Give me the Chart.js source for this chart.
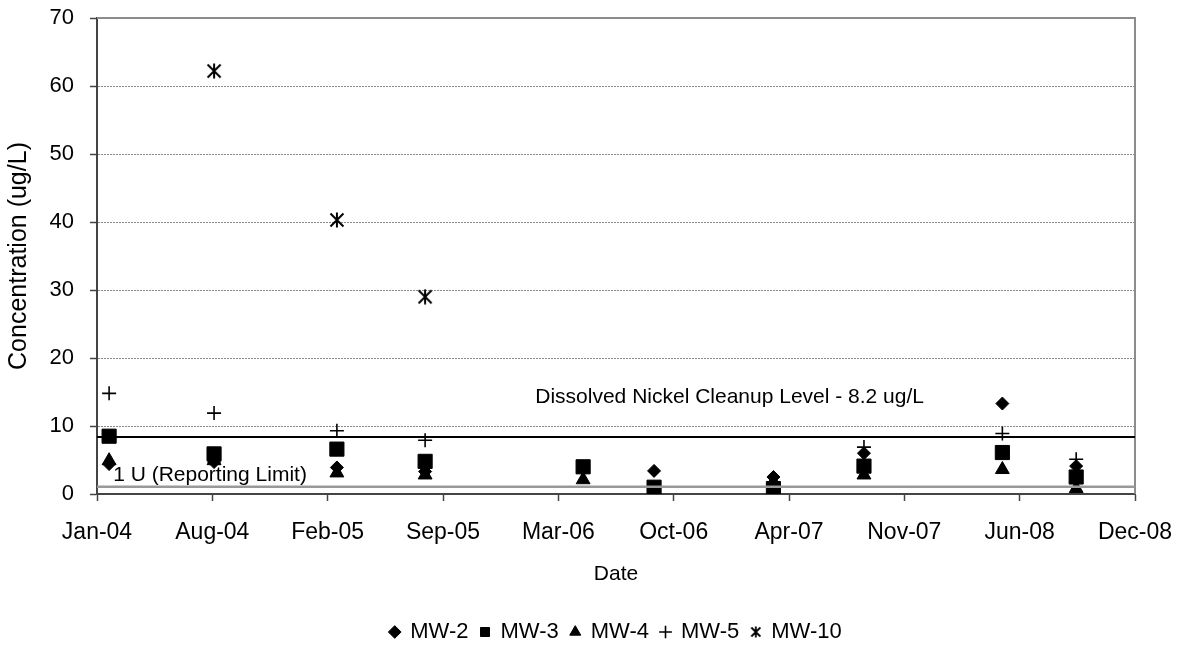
<!DOCTYPE html>
<html>
<head>
<meta charset="utf-8">
<script src="https://cdn.jsdelivr.net/npm/chart.js@4.4.1/dist/chart.umd.min.js"></script>
<style>
  html, body { margin: 0; padding: 0; background: #fff; }
  #wrap { width: 1182px; height: 655px; }
</style>
</head>
<body>
<div id="wrap"><canvas id="nickelCanvas"></canvas></div>
<script>
// sampling dates and dissolved nickel results (ug/L)
const sampleDates = ['2004-02-04', '2004-08-04', '2005-03-05', '2005-08-05', '2006-05-06',
                     '2006-09-06', '2007-04-01', '2007-09-05', '2008-05-02', '2008-09-07'];
const mw2  = [4.4, 4.7, 3.9, 3.3, 3.8, 3.4, 2.5, 6.0, 13.3, 4.1];
const mw3  = [8.5, 5.9, 6.6, 4.8, 4.0, 1.0, 0.8, 4.1, 6.1, 2.5];
const mw4  = [4.9, 4.9, 3.1, 2.8, 2.1, null, 1.8, 2.8, 3.6, 0.8];
const mw5  = [14.8, 11.9, 9.3, 7.9, null, null, null, 6.9, 8.9, 5.1];
const mw10 = [null, 62.2, 40.3, 29.0, null, null, null, null, null, null];

const cleanupLevel = 8.4;
const reportingLimit = 1.05;

// x axis runs in days from this date, one tick every 200 days
const axisStart = Date.UTC(2004, 0, 14);
const axisDays = 1800;
const tickStep = 200;
const DAY = 86400000;
const months = ['Jan', 'Feb', 'Mar', 'Apr', 'May', 'Jun', 'Jul', 'Aug', 'Sep', 'Oct', 'Nov', 'Dec'];

const dayOf = s => (Date.parse(s) - axisStart) / DAY;
const toPoints = vals => sampleDates.map((d, i) => ({x: dayOf(d), y: vals[i]})).filter(p => p.y !== null);

const FONT = '"Liberation Sans", Arial, sans-serif';

function starMarker(size, lw) {
    const c = document.createElement('canvas');
    c.width = size; c.height = size;
    const g = c.getContext('2d');
    g.strokeStyle = '#000';
    g.lineWidth = lw;
    const m = 1.5, e = size - 1.5;
    g.beginPath();
    g.moveTo(m, m); g.lineTo(e, e);
    g.moveTo(e, m); g.lineTo(m, e);
    g.moveTo(size / 2, 0.5); g.lineTo(size / 2, size - 0.5);
    g.stroke();
    return c;
}
const starBig = starMarker(16, 2);
const starSmall = starMarker(12, 1.8);

const plotFrame = {
    id: 'plotFrame',
    afterLayout(chart) {
        // centre the legend under the plot area, like the original
        const lg = chart.legend, a = chart.chartArea;
        const d = (a.left + a.right) / 2 - (lg.left + lg.right) / 2;
        lg.left += d;
        lg.right += d;
    },
    beforeDatasetsDraw(chart) {
        const {ctx, chartArea: a} = chart;
        ctx.save();
        ctx.strokeStyle = '#8c8c8c';
        ctx.lineWidth = 2;
        ctx.beginPath();
        ctx.moveTo(a.left, a.top);
        ctx.lineTo(a.right, a.top);
        ctx.lineTo(a.right, a.bottom);
        ctx.stroke();
        ctx.restore();
    },
    afterDatasetsDraw(chart) {
        const {ctx, scales: {x, y}} = chart;
        ctx.save();
        ctx.fillStyle = '#000';
        ctx.font = '21px ' + FONT;
        ctx.textBaseline = 'middle';
        ctx.fillText('Dissolved Nickel Cleanup Level - 8.2 ug/L', x.getPixelForValue(760), y.getPixelForValue(14.2));
        ctx.fillText('1 U (Reporting Limit)', x.getPixelForValue(28), y.getPixelForValue(2.7));
        ctx.restore();
    }
};

const ctx = document.getElementById('nickelCanvas').getContext('2d');

new Chart(ctx, {
    type: 'scatter',
    data: {
        datasets: [
            { label: 'cleanup', type: 'line', data: [{x: 0, y: cleanupLevel}, {x: axisDays, y: cleanupLevel}],
              borderColor: '#000', borderWidth: 2, pointRadius: 0, order: 0 },
            { label: 'reporting', type: 'line', data: [{x: 0, y: reportingLimit}, {x: axisDays, y: reportingLimit}],
              borderColor: '#999', borderWidth: 2.5, pointRadius: 0, order: 0 },
            { label: 'MW-2', data: toPoints(mw2), pointStyle: 'rectRot', pointRadius: 6.5,
              backgroundColor: '#000', borderColor: '#000', order: 1 },
            { label: 'MW-3', data: toPoints(mw3), pointStyle: 'rect', pointRadius: 10,
              backgroundColor: '#000', borderColor: '#000', order: 1 },
            { label: 'MW-4', data: toPoints(mw4), pointStyle: 'triangle', pointRadius: 8,
              backgroundColor: '#000', borderColor: '#000', order: 1 },
            { label: 'MW-5', data: toPoints(mw5), pointStyle: 'cross', pointRadius: 7, borderWidth: 1.6,
              backgroundColor: '#000', borderColor: '#000', order: 1 },
            { label: 'MW-10', data: toPoints(mw10), pointStyle: starBig,
              backgroundColor: '#000', borderColor: '#000', order: 1 }
        ]
    },
    options: {
        responsive: true,
        maintainAspectRatio: false,
        animation: false,
        layout: { padding: { top: 18, right: 47, left: 0, bottom: 2 } },
        plugins: {
            tooltip: { enabled: false },
            legend: {
                position: 'bottom',
                labels: {
                    usePointStyle: true,
                    boxWidth: 9,
                    boxHeight: 9,
                    padding: 12,
                    color: '#000',
                    font: { family: FONT, size: 22 },
                    filter: item => item.text.startsWith('MW'),
                    generateLabels(chart) {
                        const items = Chart.defaults.plugins.legend.labels.generateLabels(chart);
                        items.forEach(it => {
                            if (it.text === 'MW-10') it.pointStyle = starSmall;
                        });
                        return items;
                    }
                }
            }
        },
        scales: {
            x: {
                type: 'linear',
                min: 0,
                max: axisDays,
                afterFit: s => { s.height = 115; s.paddingLeft = 0; s.paddingRight = 0; },
                ticks: {
                    stepSize: tickStep,
                    padding: 18,
                    color: '#000',
                    font: { family: FONT, size: 23 },
                    maxRotation: 0,
                    callback: v => {
                        const d = new Date(axisStart + v * DAY);
                        return months[d.getUTCMonth()] + '-' + String(d.getUTCFullYear() % 100).padStart(2, '0');
                    }
                },
                grid: { drawOnChartArea: false, tickLength: 7, tickColor: '#444', tickWidth: 1.5 },
                border: { color: '#444', width: 2 },
                title: {
                    display: true,
                    text: 'Date',
                    color: '#000',
                    font: { family: FONT, size: 21 },
                    padding: { top: 0, bottom: 22 }
                }
            },
            y: {
                min: 0,
                max: 70,
                afterFit: s => { s.width = 97; s.paddingTop = 0; s.paddingBottom = 0; },
                ticks: {
                    stepSize: 10,
                    padding: 16,
                    color: '#000',
                    font: { family: FONT, size: 22 }
                },
                grid: {
                    color: c => (c.tick.value === 0 || c.tick.value === 70) ? 'rgba(0,0,0,0)' : '#8a8a8a',
                    lineWidth: 1,
                    tickLength: 7,
                    tickColor: '#444',
                    tickWidth: 1.5
                },
                border: { color: '#444', width: 2, dash: [2, 1] },
                title: {
                    display: true,
                    text: 'Concentration (ug/L)',
                    color: '#000',
                    font: { family: FONT, size: 25 },
                    padding: { top: 4, bottom: 0 }
                }
            }
        }
    },
    plugins: [plotFrame]
});
</script>
</body>
</html>
